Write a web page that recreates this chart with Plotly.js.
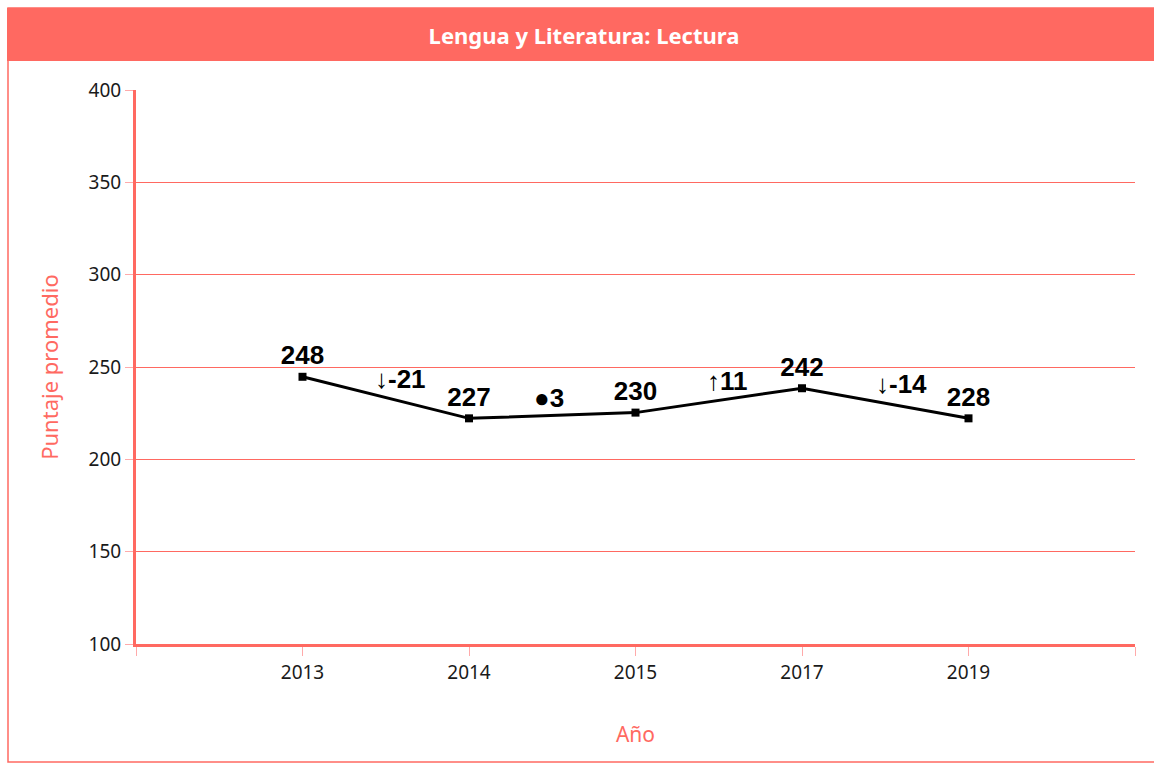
<!DOCTYPE html>
<html>
<head>
<meta charset="utf-8">
<script src="https://cdn.plot.ly/plotly-3.0.1.min.js"></script>
<style>
html,body{margin:0;padding:0;background:#fff;}
#chart{width:1154px;height:763px;}
</style>
</head>
<body>
<div id="chart"></div>
<script>
// Data
var years = ['2013', '2014', '2015', '2017', '2019'];
var plottedScores = [244.7, 222.2, 225.3, 238.5, 222.2];   // where the line/markers are drawn
var scoreLabels = ['248', '227', '230', '242', '228'];       // printed value labels
var changeLabels = ['\u2193-21', '\u25CF3', '\u219111', '\u2193-14']; // change between consecutive years
var yTicks = [100, 150, 200, 250, 300, 350, 400];

var red = '#ff6961';
var idx = years.map(function(_, i){ return i; });
var boldFamily = '"Liberation Sans Narrow", "Liberation Sans", "DejaVu Sans", Arial, sans-serif';
var uiFamily = '"Noto Sans", "Open Sans", sans-serif';

var trace = {
  x: idx,
  y: plottedScores,
  type: 'scatter',
  mode: 'lines+markers+text',
  line: {color: '#000', width: 3},
  marker: {symbol: 'square', size: 8, color: '#000'},
  text: scoreLabels,
  textposition: 'top center',
  textfont: {family: boldFamily, size: 26, color: '#000', weight: 'bold'},
  cliponaxis: false,
  hoverinfo: 'skip'
};

// horizontal placement of change labels between consecutive years (layout only)
var changeOffsets = [0.59, 0.48, 0.55, 0.6];
var changeShifts = [19, 17, 19, 19];
var annotations = changeLabels.map(function(t, i){
  var midY = (plottedScores[i] + plottedScores[i+1]) / 2;
  return {
    x: i + changeOffsets[i], y: midY, xref: 'x', yref: 'y',
    text: t, showarrow: false, yshift: changeShifts[i],
    font: {family: boldFamily, size: 26, color: '#000', weight: 'bold'}
  };
});

var L = 136, R = 1135, T = 90, B = 644;
var W = R - L, H = B - T;
function px(x){ return (x - L) / W; }
function py(y){ return (B - y) / H; }

var shapes = [
  // outer frame
  {type: 'rect', xref: 'paper', yref: 'paper', x0: px(8), x1: px(1160), y0: py(762), y1: py(8),
   line: {color: red, width: 1.5}, fillcolor: 'rgba(0,0,0,0)', layer: 'below'},
  // title bar
  {type: 'rect', xref: 'paper', yref: 'paper', x0: px(7), x1: px(1160), y0: py(61), y1: py(8),
   line: {width: 0}, fillcolor: red, layer: 'below'}
];

var layout = {
  width: 1154, height: 763,
  margin: {l: L, r: 1154 - R, t: T, b: 763 - B},
  paper_bgcolor: '#fff', plot_bgcolor: '#fff',
  showlegend: false,
  title: {
    text: '<b>Lengua y Literatura: Lectura</b>',
    x: 584 / 1154, xref: 'container', xanchor: 'center',
    y: 1 - 36 / 763, yref: 'container', yanchor: 'middle',
    font: {family: uiFamily, size: 22, color: '#fff'}
  },
  xaxis: {
    range: [-1, years.length],
    tickmode: 'array',
    tickvals: [-1].concat(idx).concat([years.length]),
    ticktext: [''].concat(years).concat(['']),
    showgrid: false, zeroline: false,
    showline: true, linecolor: red, linewidth: 3,
    ticks: 'outside', ticklen: 9, tickcolor: '#ffaaaa', tickwidth: 1,
    tickfont: {family: uiFamily, size: 19, color: '#1a1a1a'},
    title: {text: 'Año', standoff: 44, font: {family: uiFamily, size: 21, color: red}}
  },
  yaxis: {
    range: [100, 400],
    tickmode: 'array', tickvals: yTicks, ticktext: yTicks.map(String),
    showgrid: true, gridcolor: '#ff6961', gridwidth: 1,
    zeroline: false,
    showline: true, linecolor: red, linewidth: 3,
    ticks: 'outside', ticklen: 8, tickcolor: '#ffaaaa', tickwidth: 1,
    tickfont: {family: uiFamily, size: 19, color: '#1a1a1a'},
    title: {text: 'Puntaje promedio', standoff: 24, font: {family: uiFamily, size: 22, color: red}}
  },
  shapes: shapes,
  annotations: annotations
};

Plotly.newPlot('chart', [trace], layout, {displayModeBar: false, staticPlot: true});
</script>
</body>
</html>
